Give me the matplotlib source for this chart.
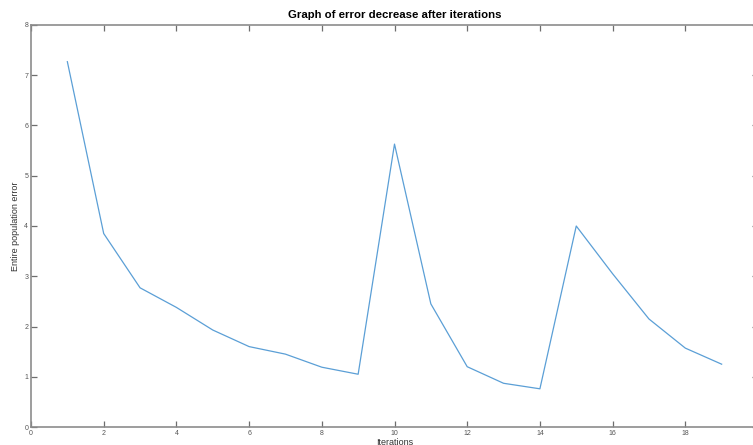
import matplotlib as mpl
mpl.use('Agg')
import matplotlib.pyplot as plt

#
#--- data
#
iterations = [1, 2, 3, 4, 5, 6, 7, 8, 9, 10, 11, 12, 13, 14, 15, 16, 17, 18, 19]
pop_error  = [7.27, 3.85, 2.77, 2.38, 1.93, 1.60, 1.45, 1.19, 1.05, 5.63,
              2.45, 1.20, 0.87, 0.76, 4.00, 3.05, 2.15, 1.57, 1.25]
x_ticks    = [0, 2, 4, 6, 8, 10, 12, 14, 16, 18, 20]
y_ticks    = [0, 1, 2, 3, 4, 5, 6, 7, 8]

mpl.rcParams['font.family'] = ['Liberation Sans', 'DejaVu Sans']

fig = plt.figure(figsize=(7.53, 4.45), dpi=100)
ax  = fig.add_axes([31 / 753, 18 / 445, 727 / 753, 402 / 445])

ax.plot(iterations, pop_error, color='#5b9fd6', linewidth=0.9)

ax.set_xlim(0, 20)
ax.set_ylim(0, 8)
ax.set_xticks(x_ticks)
ax.set_yticks(y_ticks)
#
#--- matlab-like box and inward ticks
#
for sp in ax.spines.values():
    sp.set_color('#8c8c8c')
    sp.set_linewidth(1.2)
ax.tick_params(direction='in', length=4.5, width=0.9, color='#6e6e6e',
               top=True, right=True, labelsize=5, labelcolor='#555555', pad=2)

ax.set_title('Graph of error decrease after iterations', fontsize=8.2,
             fontweight='bold', pad=5)
ax.set_xlabel('Iterations', fontsize=6.5, color='#333333', labelpad=1)
ax.set_ylabel('Entire population error', fontsize=6.5, color='#333333', labelpad=3)

plt.savefig('out.png', dpi=100)
plt.close('all')
